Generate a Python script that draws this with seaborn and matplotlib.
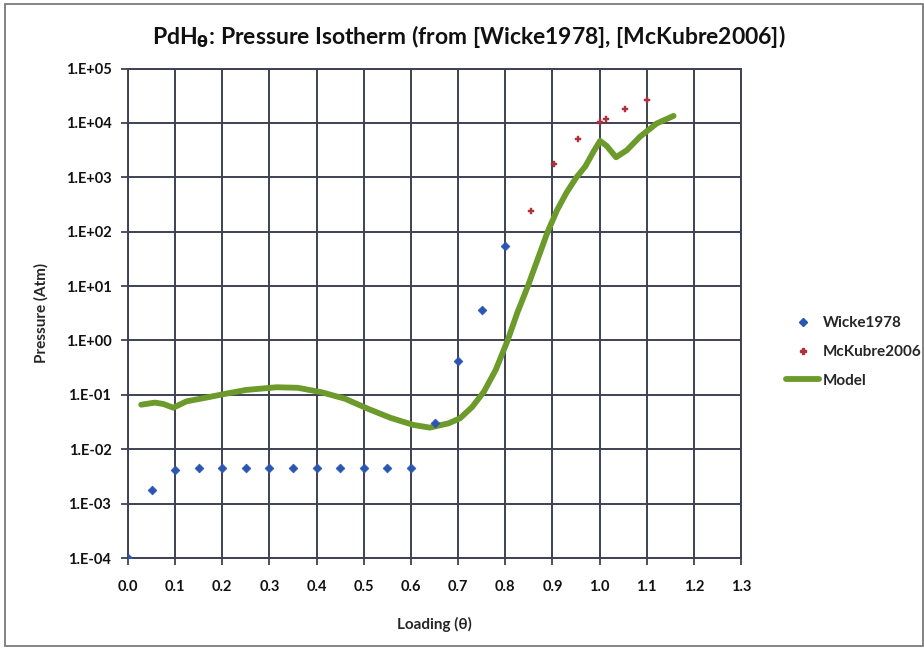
import numpy as np
import pandas as pd
import matplotlib
matplotlib.use("Agg")
import matplotlib.pyplot as plt
import matplotlib.ticker as mticker
from matplotlib.lines import Line2D
from matplotlib.patches import Rectangle
import seaborn as sns

# Wicke 1978 measurements
wicke_theta = [0.0, 0.05, 0.10, 0.15, 0.20, 0.25, 0.30, 0.35, 0.40, 0.45, 0.50,
               0.55, 0.60, 0.65, 0.70, 0.75, 0.80]
wicke_p = [1.0e-4, 1.8e-3, 4.2e-3, 4.6e-3, 4.6e-3, 4.6e-3, 4.6e-3, 4.6e-3, 4.6e-3,
           4.6e-3, 4.6e-3, 4.6e-3, 4.6e-3, 3.1e-2, 0.42, 3.6, 55.0]

# McKubre 2006 measurements
mckubre_theta = [0.854, 0.904, 0.955, 1.002, 1.014, 1.053, 1.100]
mckubre_p = [242.0, 1750.0, 4990.0, 1.04e4, 1.16e4, 1.78e4, 2.6e4]

# Model isotherm
model_theta = [0.028, 0.057, 0.075, 0.096, 0.124, 0.16, 0.20, 0.25, 0.315, 0.36,
               0.41, 0.46, 0.51, 0.556, 0.605, 0.64, 0.68, 0.704, 0.73, 0.755,
               0.78, 0.805, 0.826, 0.848, 0.869, 0.89, 0.91, 0.93, 0.951, 0.97,
               0.987, 1.001, 1.015, 1.035, 1.058, 1.086, 1.121, 1.157]
model_p = [0.066, 0.072, 0.068, 0.058, 0.076, 0.087, 0.102, 0.123, 0.138, 0.135,
           0.112, 0.085, 0.055, 0.038, 0.028, 0.025, 0.030, 0.037, 0.060, 0.115,
           0.29, 1.0, 3.3, 10.0, 31.6, 100.0, 250.0, 525.0, 1000.0, 1600.0,
           2950.0, 4680.0, 3800.0, 2340.0, 3160.0, 5620.0, 9770.0, 13500.0]

x_ticks = [round(0.1 * i, 1) for i in range(14)]
y_ticks = [10.0 ** e for e in range(-4, 6)]

sns.set_theme(style="white")
plt.rcParams["font.family"] = ["Lato", "DejaVu Sans"]

fig = plt.figure(figsize=(9.24, 6.48), dpi=100)
ax = fig.add_axes([128 / 924, 1 - 558 / 648, (741 - 128) / 924, (558 - 68.6) / 648])

wicke = pd.DataFrame({"theta": wicke_theta, "p": wicke_p})
mck = pd.DataFrame({"theta": mckubre_theta, "p": mckubre_p})
model = pd.DataFrame({"theta": model_theta, "p": model_p})

grid_c = "#3d4152"
ax.set_yscale("log")
ax.set_xlim(0, 1.3)
ax.set_ylim(1e-4, 1e5)
ax.set_xticks(x_ticks)
ax.set_yticks(y_ticks)
ax.yaxis.set_minor_locator(mticker.NullLocator())
ax.set_xticklabels([f"{t:.1f}" for t in x_ticks])
ax.yaxis.set_major_formatter(mticker.FuncFormatter(
    lambda v, _: "1.E{:+03d}".format(int(round(np.log10(v))))))
ax.grid(True, color=grid_c, lw=1.4)
ax.set_axisbelow(True)
for s in ax.spines.values():
    s.set_color(grid_c)
    s.set_linewidth(1.4)
ax.tick_params(axis="both", which="major", direction="out", length=5, width=1.3,
               color=grid_c, labelsize=10.5, labelcolor="#111111")
ax.tick_params(axis="x", pad=11)
ax.tick_params(axis="y", pad=7)
ax.xaxis.set_ticks_position("bottom")
ax.yaxis.set_ticks_position("left")
for lab in ax.get_xticklabels() + ax.get_yticklabels():
    lab.set_fontweight("bold")

sns.lineplot(data=model, x="theta", y="p", ax=ax, color="#6c9a2b", lw=4.2,
             sort=False, solid_capstyle="round", solid_joinstyle="round",
             zorder=3, legend=False)
sns.scatterplot(data=wicke, x="theta", y="p", ax=ax, marker="D", s=20,
                color="#2a55b5", edgecolor="#2a55b5", linewidth=0.5, zorder=4,
                legend=False)
sns.scatterplot(data=mck, x="theta", y="p", ax=ax, marker="P", s=20,
                color="#b0303c", edgecolor="#b0303c", linewidth=0.3, zorder=4,
                legend=False)

ax.set_xlabel("Loading (θ)", fontsize=11, fontweight="bold", labelpad=16)
ax.set_ylabel("Pressure (Atm)", fontsize=11, fontweight="bold", labelpad=12)

fig.text(0.507, 1 - 37 / 648, "PdH$_\\mathbf{θ}$: Pressure Isotherm (from [Wicke1978], [McKubre2006])",
         ha="center", va="center", fontsize=16.5, fontweight="bold", color="#111111")

handles = [
    Line2D([], [], ls="none", marker="D", ms=4.5, color="#2a55b5"),
    Line2D([], [], ls="none", marker="P", ms=4.5, color="#b0303c"),
    Line2D([], [], color="#6c9a2b", lw=4.2),
]
leg = fig.legend(handles, ["Wicke1978", "McKubre2006", "Model"],
                 loc="center left", bbox_to_anchor=(772 / 924, 1 - 352 / 648),
                 frameon=False, fontsize=11, handlelength=2.2, handletextpad=0.25,
                 labelspacing=0.95)
for t in leg.get_texts():
    t.set_fontweight("bold")

fig.patches.append(Rectangle((5 / 924, 1 - 646 / 648), 918 / 924, 642 / 648,
                             transform=fig.transFigure, fill=False,
                             edgecolor="#7a7a7a", lw=1.3))

fig.savefig("out.png", dpi=100)
